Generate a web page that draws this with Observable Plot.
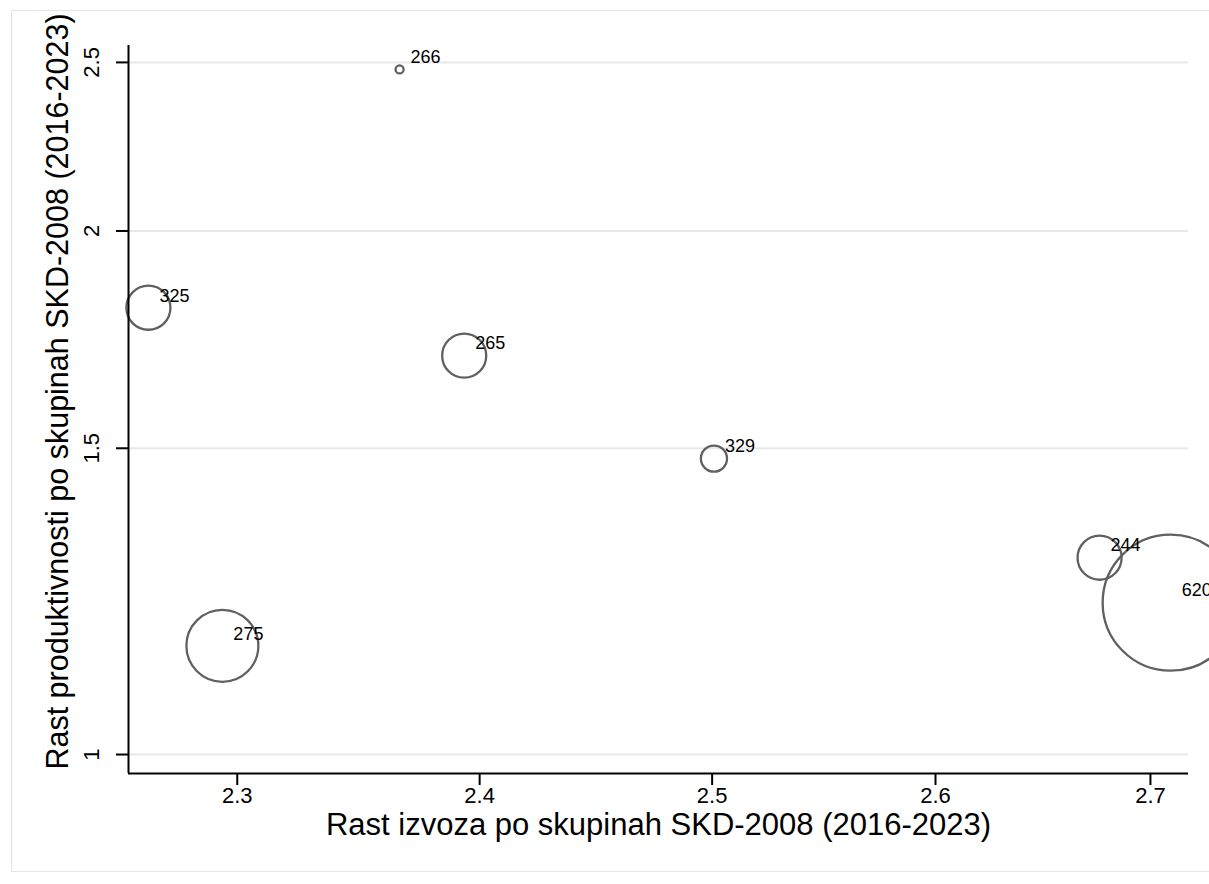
<!DOCTYPE html>
<html>
<head>
<meta charset="utf-8">
<script src="https://cdn.jsdelivr.net/npm/d3@7"></script>
<script src="https://cdn.jsdelivr.net/npm/@observablehq/plot@0.6"></script>
<style>
  html, body { margin: 0; padding: 0; background: #fff; overflow: hidden; }
  #wrap { position: relative; width: 1209px; height: 884px; overflow: hidden; background: #fff; }
  #frame { position: absolute; left: 11px; top: 10px; width: 1220px; height: 862px; border: 1px solid #e4e4e4; box-sizing: border-box; }
  #chart { position: absolute; left: 0; top: 0; }
  #chart svg { overflow: visible; }
</style>
</head>
<body>
<div id="wrap"><div id="frame"></div><div id="chart"></div></div>
<script>
// Data (SKD-2008 groups)
const codes = ["266", "325", "265", "329", "244", "620", "275"];
const exportGrowth = [2.3665, 2.2644, 2.3935, 2.5008, 2.6760, 2.7096, 2.2940];
const productivityGrowth = [2.4769, 1.8067, 1.6957, 1.4796, 1.2977, 1.2226, 1.1548];
const weights = [0.35, 10.5, 10.5, 3.7, 10.5, 100, 28];
const xTicks = [2.3, 2.4, 2.5, 2.6, 2.7];
const yTicks = [1, 1.5, 2, 2.5];
const xTitle = "Rast izvoza po skupinah SKD-2008 (2016-2023)";
const yTitle = "Rast produktivnosti po skupinah SKD-2008 (2016-2023)";

const data = codes.map((c, i) => ({code: c, x: exportGrowth[i], y: productivityGrowth[i], w: weights[i]}));
const xDomain = [2.2565, 2.7181];
const yDomain = [0.9752, 2.5566];
const font = "Arial, 'Liberation Sans', sans-serif";

const chart = Plot.plot({
  width: 1209,
  height: 884,
  marginLeft: 128,
  marginRight: 21,
  marginTop: 45,
  marginBottom: 111,
  style: {fontFamily: font, fontSize: "22px", background: "transparent", overflow: "visible"},
  x: {type: "log", domain: xDomain},
  y: {type: "log", domain: yDomain},
  r: {type: "sqrt", domain: [0, 100], range: [0, 68]},
  marks: [
    Plot.gridY(yTicks, {stroke: "#e8e8e8", strokeOpacity: 1, strokeWidth: 2}),
    Plot.dot(data, {x: "x", y: "y", r: "w", stroke: "#606060", strokeWidth: 2.3, fill: "none"}),
    Plot.text(data, {x: "x", y: "y", text: "code", dx: 11, dy: -12, textAnchor: "start", fontSize: 18, fill: "#000"}),
    Plot.axisX(xTicks, {tickSize: 12, tickPadding: 2, fontSize: 22, tickFormat: d => d.toFixed(1), label: null, stroke: "#000", strokeWidth: 2, color: "#000"}),
    Plot.axisY(yTicks, {tickSize: 12, tickPadding: 18, fontSize: 22, tickRotate: -90, textAnchor: "middle", lineAnchor: "bottom", tickFormat: d => String(d), label: null, stroke: "#000", strokeWidth: 2, color: "#000"}),
    Plot.ruleX([xDomain[0]], {stroke: "#000", strokeWidth: 2}),
    Plot.ruleY([yDomain[0]], {stroke: "#000", strokeWidth: 2}),
    Plot.text([xTitle], {frameAnchor: "bottom", dy: 52, fontSize: 31, fill: "#000", lineAnchor: "middle", textAnchor: "middle"}),
    Plot.text([yTitle], {frameAnchor: "left", dx: -70, dy: -18, rotate: -90, fontSize: 30.5, fill: "#000", lineAnchor: "middle", textAnchor: "middle"})
  ]
});
document.getElementById("chart").appendChild(chart);
</script>
</body>
</html>
